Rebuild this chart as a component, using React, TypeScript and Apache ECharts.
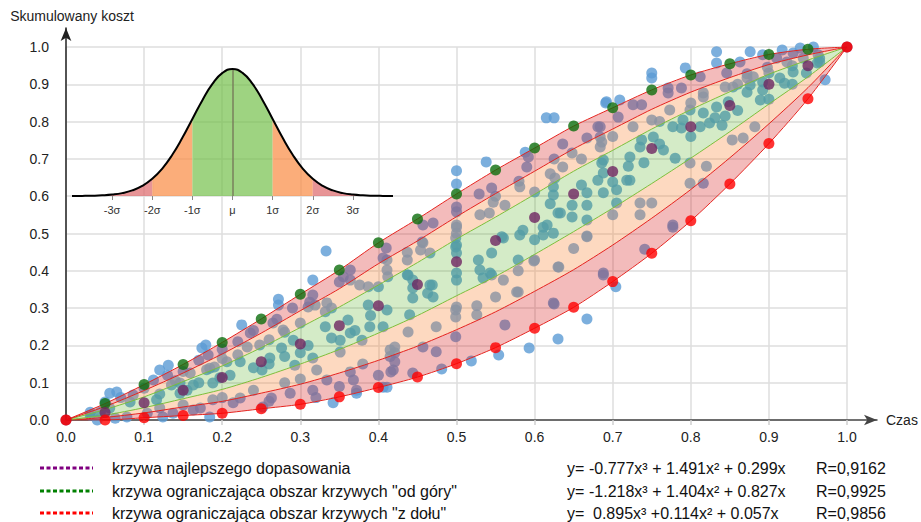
import React, { useEffect, useRef } from "react";
import * as echarts from "echarts";

const FONT = "'Liberation Sans', Arial, sans-serif";

// x positions of the bound / best-fit points
const xSteps = [0, 0.05, 0.1, 0.15, 0.2, 0.25, 0.3, 0.35, 0.4, 0.45, 0.5, 0.55, 0.6, 0.65, 0.7, 0.75, 0.8, 0.85, 0.9, 0.95, 1];

// curves
const upperBound = [0, 0.044, 0.095, 0.149, 0.208, 0.271, 0.337, 0.402, 0.475, 0.539, 0.606, 0.67, 0.729, 0.788, 0.837, 0.885, 0.925, 0.955, 0.98, 0.994, 1];
const upper2 = [0, 0.036, 0.079, 0.126, 0.177, 0.233, 0.293, 0.352, 0.419, 0.48, 0.545, 0.607, 0.667, 0.727, 0.78, 0.833, 0.879, 0.918, 0.953, 0.979, 1];
const upper1 = [0, 0.028, 0.062, 0.103, 0.145, 0.194, 0.248, 0.303, 0.362, 0.422, 0.485, 0.544, 0.605, 0.667, 0.723, 0.78, 0.832, 0.88, 0.927, 0.965, 1];
const bestFit = [0, 0.02, 0.046, 0.08, 0.114, 0.156, 0.204, 0.253, 0.306, 0.363, 0.424, 0.481, 0.543, 0.606, 0.666, 0.728, 0.786, 0.843, 0.9, 0.95, 1];
const lower1 = [0, 0.013, 0.033, 0.057, 0.082, 0.114, 0.15, 0.189, 0.233, 0.28, 0.333, 0.385, 0.444, 0.505, 0.568, 0.634, 0.702, 0.773, 0.847, 0.92, 1];
const lower2 = [0, 0.007, 0.019, 0.035, 0.05, 0.072, 0.096, 0.126, 0.16, 0.198, 0.242, 0.29, 0.345, 0.403, 0.469, 0.541, 0.618, 0.703, 0.794, 0.891, 1];
const lowerBound = [0, 0, 0.006, 0.012, 0.018, 0.03, 0.042, 0.062, 0.087, 0.115, 0.151, 0.194, 0.246, 0.302, 0.371, 0.447, 0.534, 0.633, 0.741, 0.861, 1];

// observed points
const scatterPoints = [
  [0.691, 0.85], [0.615, 0.81], [0.625, 0.81], [0.588, 0.718], [0.538, 0.692], [0.5, 0.668], [0.5, 0.633], [0.333, 0.453], [0.316, 0.375], [0.272, 0.324], [0.272, 0.308],
  [0.681, 0.786], [0.667, 0.756], [0.686, 0.745], [0.636, 0.74], [0.625, 0.7], [0.648, 0.716], [0.59, 0.678], [0.592, 0.705], [0.545, 0.622], [0.529, 0.606], [0.5, 0.571], [0.5, 0.558], [0.47, 0.528], [0.457, 0.523], [0.456, 0.477], [0.41, 0.461], [0.406, 0.434], [0.364, 0.402], [0.355, 0.384], [0.312, 0.316], [0.31, 0.303],
  [0.684, 0.732], [0.636, 0.678], [0.626, 0.649], [0.6, 0.611], [0.581, 0.625], [0.562, 0.576], [0.547, 0.584], [0.542, 0.555], [0.53, 0.55], [0.5, 0.523], [0.5, 0.501], [0.457, 0.475], [0.454, 0.456], [0.466, 0.448], [0.437, 0.45], [0.437, 0.429], [0.411, 0.402], [0.412, 0.384], [0.376, 0.362], [0.387, 0.357], [0.364, 0.375], [0.35, 0.37], [0.334, 0.314],
  [0.686, 0.689], [0.688, 0.662], [0.681, 0.643], [0.688, 0.609], [0.667, 0.609], [0.667, 0.576], [0.648, 0.576], [0.648, 0.544], [0.624, 0.625], [0.624, 0.603], [0.63, 0.555], [0.616, 0.523], [0.611, 0.496], [0.624, 0.501], [0.6, 0.483], [0.585, 0.509], [0.581, 0.496], [0.56, 0.488], [0.545, 0.448], [0.528, 0.429], [0.53, 0.402], [0.534, 0.381], [0.543, 0.394], [0.579, 0.429], [0.5, 0.469], [0.5, 0.448], [0.5, 0.394], [0.5, 0.375], [0.469, 0.362], [0.463, 0.34], [0.444, 0.354], [0.444, 0.327], [0.437, 0.389], [0.4, 0.357], [0.387, 0.308],
  [0.63, 0.41], [0.6, 0.429], [0.577, 0.343], [0.56, 0.375], [0.667, 0.491], [0.688, 0.394], [0.624, 0.314], [0.5, 0.303],
  [0.833, 0.987], [0.833, 0.957], [0.876, 0.987], [0.892, 0.979], [0.917, 0.992], [0.94, 0.997], [0.957, 1.0], [0.75, 0.93], [0.75, 0.917], [0.793, 0.944], [0.692, 0.853], [0.709, 0.858], [0.972, 0.912],
  [0.863, 0.96], [0.91, 0.97], [0.931, 0.984], [0.963, 0.979], [0.726, 0.845], [0.737, 0.845], [0.771, 0.89], [0.771, 0.877], [0.788, 0.89], [0.812, 0.92], [0.846, 0.93], [0.684, 0.786], [0.707, 0.812],
  [0.726, 0.786], [0.75, 0.804], [0.773, 0.831], [0.799, 0.831], [0.816, 0.877], [0.816, 0.866], [0.844, 0.893], [0.872, 0.917], [0.872, 0.928], [0.898, 0.946], [0.923, 0.96], [0.944, 0.97], [0.965, 0.96], [0.79, 0.804], [0.684, 0.759], [0.735, 0.732],
  [0.844, 0.815], [0.831, 0.81], [0.816, 0.823], [0.777, 0.786], [0.788, 0.783], [0.812, 0.786], [0.824, 0.796], [0.833, 0.839], [0.872, 0.879], [0.876, 0.898], [0.88, 0.92], [0.892, 0.906], [0.914, 0.917], [0.92, 0.903], [0.931, 0.933], [0.948, 0.93], [0.962, 0.957], [0.965, 0.97], [0.892, 0.885], [0.889, 0.858], [0.848, 0.853], [0.854, 0.893], [0.688, 0.697], [0.7, 0.638], [0.722, 0.705], [0.718, 0.643], [0.737, 0.751], [0.752, 0.759], [0.765, 0.724], [0.78, 0.702], [0.705, 0.617], [0.722, 0.643],
  [0.735, 0.582], [0.75, 0.582], [0.799, 0.689], [0.799, 0.635], [0.816, 0.635], [0.853, 0.751], [0.867, 0.756], [0.882, 0.786], [0.735, 0.55], [0.777, 0.517],
  [0.777, 0.523], [0.741, 0.458], [0.688, 0.389], [0.625, 0.311], [0.562, 0.255], [0.499, 0.223], [0.474, 0.183], [0.457, 0.196], [0.444, 0.126], [0.416, 0.129], [0.421, 0.156],
  [0.704, 0.357], [0.667, 0.271], [0.63, 0.217], [0.593, 0.193], [0.554, 0.174], [0.519, 0.158], [0.481, 0.137], [0.406, 0.088],
  [0.667, 0.493], [0.631, 0.41], [0.599, 0.426], [0.579, 0.343], [0.579, 0.4], [0.526, 0.306], [0.526, 0.282], [0.499, 0.295], [0.499, 0.276], [0.474, 0.25], [0.438, 0.236], [0.421, 0.196], [0.421, 0.18], [0.411, 0.429],
  [0.499, 0.488], [0.499, 0.464], [0.545, 0.389], [0.558, 0.491], [0.611, 0.517], [0.633, 0.555], [0.667, 0.536], [0.705, 0.582], [0.444, 0.375], [0.466, 0.362], [0.47, 0.33], [0.438, 0.389], [0.411, 0.295], [0.44, 0.282], [0.5, 0.517],
  [0.225, 0.255], [0.179, 0.201], [0.174, 0.193], [0.12, 0.134], [0.131, 0.147], [0.056, 0.072], [0.065, 0.075], [0.05, 0.048], [0.184, 0.008], [0.124, 0.008], [0.031, 0.021], [0.04, 0.0], [0.063, 0.005], [0.411, 0.088], [0.372, 0.08],
  [0.316, 0.335], [0.319, 0.308], [0.278, 0.241], [0.265, 0.26], [0.236, 0.233], [0.232, 0.196], [0.182, 0.174], [0.19, 0.142], [0.159, 0.126], [0.146, 0.099], [0.112, 0.107], [0.082, 0.048], [0.086, 0.067], [0.056, 0.032], [0.044, 0.021], [0.031, 0.013],
  [0.361, 0.268], [0.332, 0.29], [0.332, 0.25], [0.291, 0.214], [0.248, 0.201], [0.206, 0.156], [0.184, 0.139], [0.155, 0.08], [0.135, 0.094], [0.116, 0.054], [0.12, 0.032], [0.415, 0.188], [0.415, 0.17],
  [0.316, 0.166], [0.321, 0.134], [0.293, 0.147], [0.276, 0.193], [0.261, 0.166], [0.251, 0.134], [0.223, 0.156], [0.197, 0.113], [0.188, 0.099], [0.163, 0.094], [0.146, 0.072], [0.351, 0.182], [0.351, 0.214], [0.379, 0.214], [0.389, 0.25], [0.406, 0.25], [0.364, 0.233],
  [0.316, 0.08], [0.334, 0.107], [0.364, 0.129], [0.368, 0.107], [0.287, 0.072], [0.263, 0.059], [0.223, 0.059], [0.188, 0.054], [0.172, 0.032], [0.104, 0.018],
  [0.419, 0.134], [0.372, 0.072], [0.342, 0.046], [0.252, 0.035], [0.214, 0.046], [0.163, 0.027], [0.137, 0.018], [0.078, 0.008],
  [0.13, 0.12], [0.17, 0.16], [0.2, 0.19], [0.24, 0.24], [0.27, 0.27], [0.29, 0.3], [0.22, 0.21], [0.15, 0.13], [0.1, 0.085], [0.07, 0.06],
  [0.14, 0.105], [0.18, 0.135], [0.22, 0.175], [0.26, 0.215], [0.3, 0.26], [0.34, 0.3], [0.28, 0.235], [0.2, 0.165],
  [0.12, 0.07], [0.17, 0.1], [0.21, 0.12], [0.24, 0.14], [0.28, 0.17], [0.31, 0.2], [0.34, 0.22], [0.37, 0.24], [0.39, 0.28], [0.3, 0.18], [0.26, 0.15],
  [0.15, 0.04], [0.2, 0.06], [0.24, 0.08], [0.28, 0.1], [0.3, 0.11], [0.35, 0.09], [0.38, 0.15], [0.4, 0.12], [0.26, 0.05], [0.32, 0.06],
  [0.9, 0.93], [0.93, 0.95], [0.86, 0.9], [0.8, 0.85], [0.76, 0.8], [0.7, 0.76], [0.66, 0.7], [0.62, 0.66], [0.58, 0.64], [0.55, 0.6],
  [0.74, 0.69], [0.76, 0.74], [0.8, 0.76], [0.84, 0.79], [0.86, 0.83], [0.9, 0.86], [0.93, 0.9], [0.72, 0.68], [0.66, 0.63], [0.62, 0.58],
  [0.7, 0.55], [0.82, 0.68], [0.65, 0.46], [0.55, 0.33],
];

// inset: normal curve heights read at quarter-sigma steps
const sigmaX = [-4, -3.75, -3.5, -3.25, -3, -2.75, -2.5, -2.25, -2, -1.75, -1.5, -1.25, -1, -0.75, -0.5, -0.25, 0, 0.25, 0.5, 0.75, 1, 1.25, 1.5, 1.75, 2, 2.25, 2.5, 2.75, 3, 3.25, 3.5, 3.75, 4];
const sigmaH = [0.0003, 0.0009, 0.0022, 0.0051, 0.0111, 0.0228, 0.0439, 0.0796, 0.1353, 0.2163, 0.3247, 0.4578, 0.6065, 0.7548, 0.8825, 0.9692, 1, 0.9692, 0.8825, 0.7548, 0.6065, 0.4578, 0.3247, 0.2163, 0.1353, 0.0796, 0.0439, 0.0228, 0.0111, 0.0051, 0.0022, 0.0009, 0.0003];
const sigmaTickValues = [-3, -2, -1, 0, 1, 2, 3];
const sigmaTickLabels = ["-3σ", "-2σ", "-1σ", "μ", "1σ", "2σ", "3σ"];

const legendRows = [
  { color: "#800080", label: "krzywa najlepszego dopasowania", eqLead: "y=", eq: "-0.777x³ + 1.491x² + 0.299x", r: "R=0,9162" },
  { color: "#008000", label: "krzywa ograniczająca obszar krzywych \"od góry\"", eqLead: "y=", eq: "-1.218x³ + 1.404x² + 0.827x", r: "R=0,9925" },
  { color: "#ff0000", label: "krzywa ograniczająca obszar krzywych \"z dołu\"", eqLead: "y=", eq: "0.895x³ +0.114x² + 0.057x", r: "R=0,9856" },
];

const RED_FILL = "rgba(216,30,30,0.3)";
const ORANGE_FILL = "rgba(248,128,45,0.3)";
const GREEN_FILL = "rgba(60,165,0,0.22)";
const RED_LINE = "#e5231e";
const GREEN_LINE = "#7cbf3a";

export default function App() {
  const ref = useRef<HTMLDivElement>(null);

  useEffect(() => {
    if (!ref.current) return;
    const chart = echarts.init(ref.current, undefined, { renderer: "svg" });

    const layers = [lowerBound, lower2, lower1, upper1, upper2, upperBound];
    const bandFills = [RED_FILL, ORANGE_FILL, GREEN_FILL, ORANGE_FILL, RED_FILL];
    const strokes = [RED_LINE, RED_LINE, GREEN_LINE, GREEN_LINE, RED_LINE, RED_LINE];

    const curveSeries = layers.map((layer, i) => ({
      type: "line",
      xAxisIndex: 0,
      yAxisIndex: 0,
      smooth: 0.25,
      symbol: "none",
      silent: true,
      z: 4,
      lineStyle: { color: strokes[i], width: 1 },
      data: xSteps.map((x, k) => [x, layer[k]]),
    }));

    const bandSeries = {
      type: "custom",
      coordinateSystem: "cartesian2d",
      xAxisIndex: 0,
      yAxisIndex: 0,
      silent: true,
      z: 3,
      data: bandFills.map((_, i) => [i, 0]),
      renderItem: (params: any, api: any) => {
        const i = api.value(0);
        const lo = layers[i];
        const hi = layers[i + 1];
        const pts: number[][] = [];
        xSteps.forEach((x, k) => pts.push(api.coord([x, hi[k]])));
        for (let k = xSteps.length - 1; k >= 0; k--) pts.push(api.coord([xSteps[k], lo[k]]));
        return {
          type: "polygon",
          shape: { points: pts },
          style: { fill: bandFills[i], stroke: "none" },
        };
      },
    };

    const segment = (a: number, b: number, color: string) => ({
      type: "line",
      xAxisIndex: 1,
      yAxisIndex: 1,
      smooth: true,
      symbol: "none",
      silent: true,
      z: 5,
      lineStyle: { width: 0, opacity: 0 },
      areaStyle: { color, opacity: 1 },
      data: sigmaX.map((x, k) => [x, sigmaH[k]]).filter((p) => p[0] >= a && p[0] <= b),
    });

    const hAt = (x: number) => sigmaH[sigmaX.indexOf(x)];
    const sep = (x: number, color: string) => [
      { coord: [x, 0], lineStyle: { color, width: 1.5, type: "solid" } },
      { coord: [x, hAt(x)] },
    ];

    const graphics: any[] = [];
    const rowsY = [468, 491, 513];
    legendRows.forEach((row, i) => {
      const y = rowsY[i];
      graphics.push({
        type: "line",
        shape: { x1: 40, y1: y, x2: 93, y2: y },
        style: { stroke: row.color, lineWidth: 3, lineDash: [4, 2.5] },
      });
      graphics.push({
        type: "text", x: 112, y,
        style: { text: row.label, fontSize: 16, fontFamily: FONT, fill: "#111", verticalAlign: "middle" },
      });
      graphics.push({
        type: "text", x: 567, y,
        style: { text: row.eqLead, fontSize: 16, fontFamily: FONT, fill: "#111", verticalAlign: "middle" },
      });
      graphics.push({
        type: "text", x: i === 2 ? 593 : 589, y,
        style: { text: row.eq, fontSize: 16, fontFamily: FONT, fill: "#111", verticalAlign: "middle" },
      });
      graphics.push({
        type: "text", x: 816, y,
        style: { text: row.r, fontSize: 16, fontFamily: FONT, fill: "#111", verticalAlign: "middle" },
      });
    });

    chart.setOption({
      animation: false,
      backgroundColor: "#ffffff",
      textStyle: { fontFamily: FONT },
      grid: [
        { left: 66, top: 47, width: 781, height: 373 },
        { left: 72, top: 69, width: 321, height: 127 },
        { left: 66, top: 28, width: 811, height: 392 },
      ],
      xAxis: [
        {
          gridIndex: 0, type: "value", min: 0, max: 1, interval: 0.1,
          axisLine: { show: false },
          axisTick: { show: true, length: 5, lineStyle: { color: "#cfcfcf", width: 1.5 } },
          axisLabel: { formatter: (v: number) => v.toFixed(1), fontSize: 14, color: "#222", margin: 10, fontFamily: FONT },
          splitLine: { show: true, lineStyle: { color: "#dedede", width: 1.5 } },
        },
        {
          gridIndex: 1, type: "value", min: -4, max: 4, interval: 1,
          axisLine: { show: false },
          axisTick: { show: true, customValues: sigmaTickValues, length: 4, lineStyle: { color: "#888" } },
          axisLabel: {
            customValues: sigmaTickValues,
            formatter: (v: number) => sigmaTickLabels[sigmaTickValues.indexOf(v)] ?? "",
            fontSize: 11, color: "#333", margin: 8, fontFamily: FONT,
          },
          splitLine: { show: false },
        },
        {
          gridIndex: 2, type: "value", min: 0, max: 1,
          axisLine: { show: true, onZero: false, symbol: ["none", "arrow"], symbolSize: [8, 13], lineStyle: { color: "#444", width: 1.5 } },
          axisTick: { show: false }, axisLabel: { show: false }, splitLine: { show: false },
          name: "Czas", nameLocation: "end", nameGap: 9,
          nameTextStyle: { fontSize: 14, color: "#222", fontFamily: FONT },
        },
      ],
      yAxis: [
        {
          gridIndex: 0, type: "value", min: 0, max: 1, interval: 0.1,
          axisLine: { show: false }, axisTick: { show: false },
          axisLabel: { formatter: (v: number) => v.toFixed(1), fontSize: 14, color: "#222", margin: 17, fontFamily: FONT },
          splitLine: { show: true, lineStyle: { color: "#dedede", width: 1.5 } },
        },
        { gridIndex: 1, type: "value", min: 0, max: 1, show: false },
        {
          gridIndex: 2, type: "value", min: 0, max: 1,
          axisLine: { show: true, onZero: false, symbol: ["none", "arrow"], symbolSize: [8, 13], lineStyle: { color: "#222", width: 1.5 } },
          axisTick: { show: false }, axisLabel: { show: false }, splitLine: { show: false },
          name: "Skumulowany koszt", nameLocation: "end", nameGap: 5,
          nameTextStyle: { fontSize: 14, color: "#222", fontFamily: FONT, padding: [0, 0, 0, 12] },
        },
      ],
      graphic: graphics,
      series: [
        {
          type: "scatter", xAxisIndex: 0, yAxisIndex: 0, symbolSize: 11, z: 2, silent: true,
          itemStyle: { color: "#5b9bd5" },
          data: scatterPoints,
        },
        bandSeries,
        ...curveSeries,
        {
          type: "scatter", xAxisIndex: 0, yAxisIndex: 0, symbolSize: 11, z: 5, silent: true,
          itemStyle: { color: "#0c6e0c" },
          data: xSteps.slice(1, 20).map((x, k) => [x, upperBound[k + 1]]),
        },
        {
          type: "scatter", xAxisIndex: 0, yAxisIndex: 0, symbolSize: 11, z: 5, silent: true,
          itemStyle: { color: "#6e2562" },
          data: xSteps.map((x, k) => [x, bestFit[k]]),
        },
        {
          type: "scatter", xAxisIndex: 0, yAxisIndex: 0, symbolSize: 11, z: 5, silent: true,
          itemStyle: { color: "#ff0000" },
          data: xSteps.map((x, k) => [x, lowerBound[k]]),
        },
        segment(-4, -2, "rgba(222,107,109,0.72)"),
        segment(-2, -1, "rgba(249,142,71,0.72)"),
        segment(-1, 1, "rgba(112,190,70,0.68)"),
        segment(1, 2, "rgba(249,142,71,0.72)"),
        segment(2, 4, "rgba(222,107,109,0.72)"),
        {
          type: "line", xAxisIndex: 1, yAxisIndex: 1, smooth: true, symbol: "none", silent: true, z: 6,
          lineStyle: { color: "#000", width: 2 },
          data: sigmaX.map((x, k) => [x, sigmaH[k]]),
          markLine: {
            silent: true, symbol: ["none", "none"], label: { show: false },
            data: [
              sep(-2, "#f2f2f2"), sep(-1, "#ffffff"), sep(1, "#ffffff"), sep(2, "#ffffff"), sep(0, "#8b008b"),
            ],
          },
        },
      ],
    });

    return () => chart.dispose();
  }, []);

  return <div ref={ref} style={{ position: "fixed", left: 0, top: 0, width: 921, height: 522 }} />;
}
